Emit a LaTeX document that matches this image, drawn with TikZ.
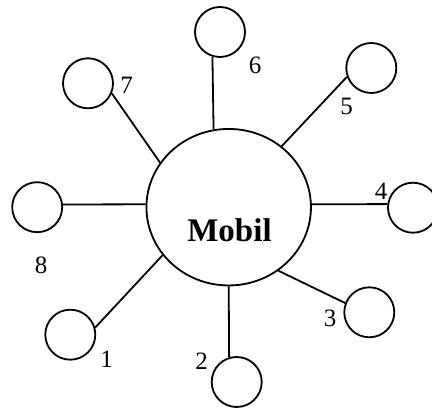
\documentclass[tikz,border=0pt]{standalone}
\usepackage{fontspec}
\setmainfont{Liberation Serif}
\usetikzlibrary{shapes.geometric}

\begin{document}
\begin{tikzpicture}[
    x=1pt, y=-1pt,
    line width=1.8pt,
    hub/.style={ellipse, draw, minimum width=164.5pt, minimum height=156.5pt, inner sep=0pt},
    title/.style={inner sep=0pt, font=\fontsize{33}{36}\selectfont\bfseries},
    sat/.style={circle, draw, minimum size=50pt, inner sep=0pt},
    num/.style={inner sep=0pt, font=\fontsize{25}{28}\selectfont},
    link/.style={line width=1.8pt}
]
\useasboundingbox (0,0) rectangle (432,409);

% Centre
\node[hub] (mobil) at (228.7,207.2) {};
\node[title] (name) at (229.5,230) {Mobil};

% Satellites
\node[sat] (c1) at (70.3,334.7) {};
\node[sat] (c2) at (236.7,382) {};
\node[sat] (c3) at (369.3,312.3) {};
\node[sat] (c4) at (413,207.7) {};
\node[sat] (c5) at (371.3,68) {};
\node[sat] (c6) at (220,32) {};
\node[sat] (c7) at (88,83.3) {};
\node[sat] (c8) at (37.2,207.2) {};

% Numbers
\node[num] (n1) at (106.7,359.3) {1};
\node[num] (n2) at (201.7,361.7) {2};
\node[num] (n3) at (330,318.3) {3};
\node[num] (n4) at (381,191.7) {4};
\node[num] (n5) at (346.7,106) {5};
\node[num] (n6) at (255,65) {6};
\node[num] (n7) at (126.7,85) {7};
\node[num] (n8) at (41,265) {8};

% Links
\draw[link] (mobil.216.1) -- (c1.16.7);
\draw[link] (mobil.270) -- (c2.107.9);
\draw[link] (mobil.308.9) -- (c3.159.7);
\draw[link] (mobil.2) -- (c4.172.2);
\draw[link] (mobil.49.1) -- (c5.200.7);
\draw[link] (mobil.101.9) -- (c6.253);
\draw[link] (mobil.147.2) -- (c7.337);
\draw[link] (mobil.178) -- (c8.6.7);

\end{tikzpicture}
\end{document}
